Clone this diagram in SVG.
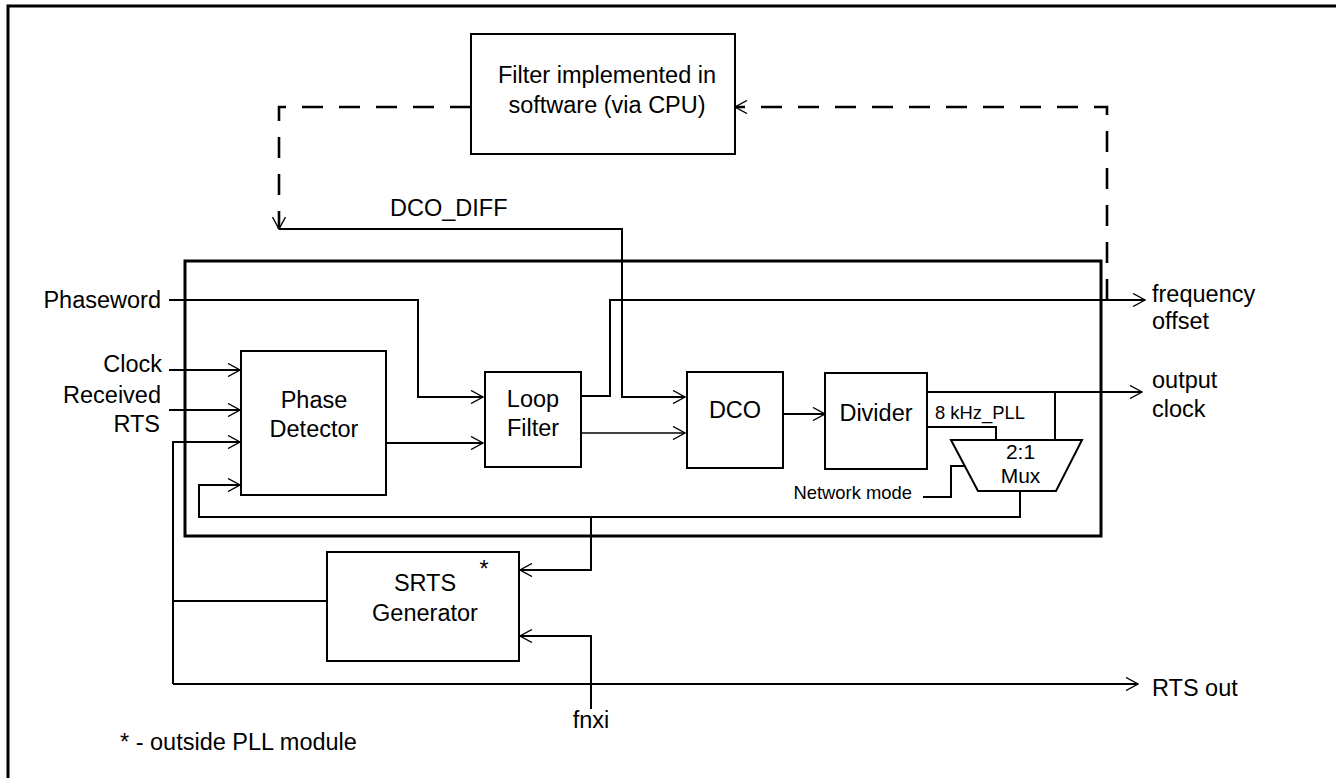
<svg xmlns="http://www.w3.org/2000/svg" width="1336" height="778" viewBox="0 0 1336 778">
<style>
text{font-family:"Liberation Sans",Arial,sans-serif;font-size:23.5px;fill:#000}
.sm{font-size:18.4px}
.mx{font-size:21px}
.mid{text-anchor:middle}
.end{text-anchor:end}
.box{fill:#fff;stroke:#000;stroke-width:2}
.w{fill:none;stroke:#000;stroke-width:2}
.thin{fill:none;stroke:#000;stroke-width:1.3}
.dash{fill:none;stroke:#000;stroke-width:2.6;stroke-dasharray:21 16}
</style>
<defs>
<marker id="arr" markerUnits="userSpaceOnUse" markerWidth="14" markerHeight="14" viewBox="0 0 14 14" refX="13" refY="7" orient="auto">
<path d="M1,0.5 L13,7 L1,13.5" fill="none" stroke="#000" stroke-width="1.4"/>
</marker>
</defs>
<rect width="1336" height="778" fill="#fff"/>
<path d="M8,790 V6 H1345" fill="none" stroke="#000" stroke-width="3"/>
<g id="pll">
<rect x="185" y="261" width="916" height="275" fill="none" stroke="#000" stroke-width="3"/>
</g>
<g id="connectors">
<path class="dash" d="M471,107 H279 V229" marker-end="url(#arr)"/>
<path class="dash" d="M1107,300 V107 H735" marker-end="url(#arr)"/>
<path class="w" d="M279,229 H622 V397 H685" marker-end="url(#arr)"/>
<path class="w" d="M169,300 H418 V397 H483" marker-end="url(#arr)"/>
<path class="w" d="M169,370 H240" marker-end="url(#arr)"/>
<path class="w" d="M169,410 H240" marker-end="url(#arr)"/>
<path class="w" d="M173,684 V442 H240" marker-end="url(#arr)"/>
<path class="w" d="M173,601 H327"/>
<path class="w" d="M173,684 H1138" marker-end="url(#arr)"/>
<path class="w" d="M1020,491 V517 H199 V485 H240" marker-end="url(#arr)"/>
<path class="w" d="M591,517 V570 H520" marker-end="url(#arr)"/>
<path class="w" d="M591,709 V636 H520" marker-end="url(#arr)"/>
<path class="w" d="M386,443 H483" marker-end="url(#arr)"/>
<path class="w" d="M581,396 H610 V300 H1145" marker-end="url(#arr)"/>
<path class="thin" d="M581,433 H685" marker-end="url(#arr)"/>
<path class="w" d="M783,414 H825" marker-end="url(#arr)"/>
<path class="w" d="M927,392 H1142" marker-end="url(#arr)"/>
<path class="w" d="M1055,392 V440"/>
<path class="w" d="M927,427 H996 V440"/>
<path class="w" d="M923,497 H951 V466 H965"/>
</g>
<g id="filter">
<rect class="box" x="471" y="34" width="264" height="120"/>
<text class="mid" x="607" y="83">Filter implemented in</text>
<text class="mid" x="607" y="113">software (via CPU)</text>
</g>
<g id="phase-detector">
<rect class="box" x="241" y="351" width="145" height="144"/>
<text class="mid" x="314" y="408">Phase</text>
<text class="mid" x="314" y="437">Detector</text>
</g>
<g id="loop-filter">
<rect class="box" x="485" y="372" width="96" height="95"/>
<text class="mid" x="533" y="407">Loop</text>
<text class="mid" x="533" y="436">Filter</text>
</g>
<g id="dco">
<rect class="box" x="687" y="372" width="96" height="96"/>
<text class="mid" x="735" y="418">DCO</text>
</g>
<g id="divider">
<rect class="box" x="825" y="373" width="102" height="96"/>
<text class="mid" x="876" y="421">Divider</text>
</g>
<g id="mux">
<path class="box" d="M951,440 H1082 L1056,491 H978 Z"/>
<text class="mid mx" x="1020.5" y="459">2:1</text>
<text class="mid mx" x="1020.5" y="483">Mux</text>
</g>
<g id="srts">
<rect class="box" x="327" y="552" width="192" height="109"/>
<text class="mid" x="425" y="591">SRTS</text>
<text class="mid" x="425" y="621">Generator</text>
<text class="mid" x="484" y="577">*</text>
</g>
<g id="labels">
<text class="end" x="161" y="308">Phaseword</text>
<text class="end" x="162" y="372">Clock</text>
<text class="end" x="161" y="403">Received</text>
<text class="end" x="160" y="432">RTS</text>
<text x="390" y="216">DCO_DIFF</text>
<text x="1152" y="302">frequency</text>
<text x="1152" y="329">offset</text>
<text x="1152" y="388">output</text>
<text x="1152" y="417">clock</text>
<text x="1152" y="696">RTS out</text>
<text class="sm" x="935" y="419">8 kHz_PLL</text>
<text class="sm end" x="912" y="499">Network mode</text>
<text class="mid" x="591" y="728">fnxi</text>
<text x="120" y="750">* - outside PLL module</text>
</g>
</svg>
